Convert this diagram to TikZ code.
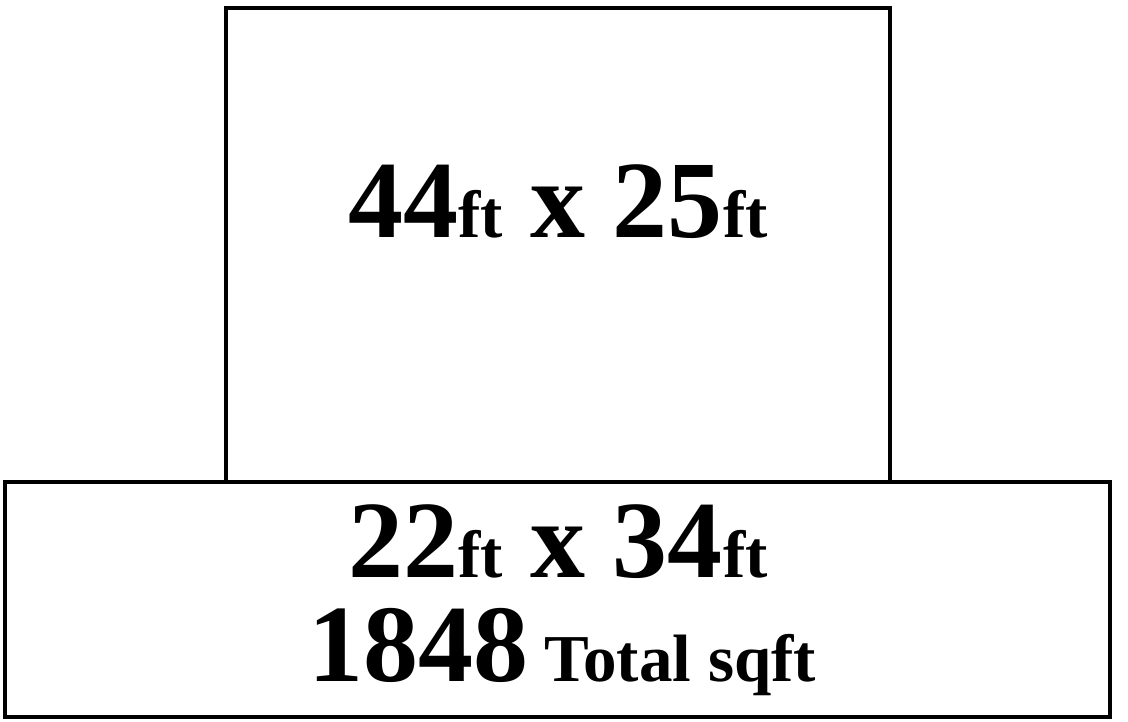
\documentclass[tikz,border=0pt]{standalone}
\usepackage{fontspec}
\setmainfont{Liberation Serif}
\usetikzlibrary{positioning}

\newcommand{\bigsz}{\fontsize{110}{110}\selectfont\bfseries}
\newcommand{\unitsz}{\fontsize{67}{67}\selectfont\bfseries}

\begin{document}
\begin{tikzpicture}[%
  x=1pt, y=-1pt,
  room/.style={draw, line width=4pt},
  dims/.style={anchor=base, inner sep=0pt},
]

  \useasboundingbox (0,0) rectangle (1128,722);

  % rooms
  \draw[room] (226,8) rectangle (890,482) coordinate (upper);
  \draw[room] (5,482) rectangle (1110,717);

  % labels
  \node[dims] (upperdim) at (558,238)
    {\bigsz 44{\unitsz ft} x 25{\unitsz ft}};
  \node[dims] (lowerdim) at (558,577)
    {\bigsz 22{\unitsz ft} x 34{\unitsz ft}};
  \node[dims] (total) at (562,681)
    {\bigsz 1848{\unitsz\ Total sqft}};

\end{tikzpicture}
\end{document}
